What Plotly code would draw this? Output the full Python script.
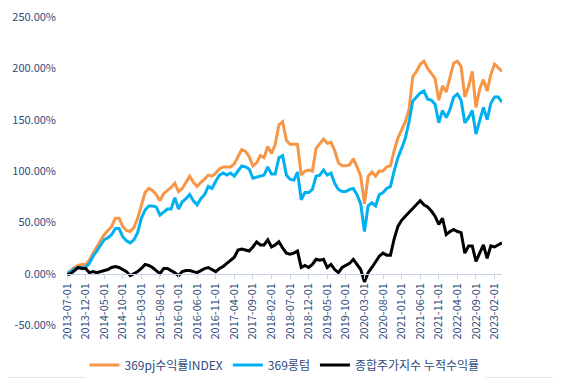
import pandas as pd
import plotly.graph_objects as go

dates = [d.strftime("%Y-%m-%d") for d in pd.date_range("2013-07-01", periods=118, freq="MS")]

pj_index = [0, 3, 6, 8, 9, 9, 13, 20, 26, 32, 38, 42, 46, 54, 54, 46, 42, 41, 45, 54,
            66, 79, 83, 81, 77, 71, 78, 81, 84, 88, 80, 83, 89, 95, 89, 85, 89, 92, 96, 95,
            98, 102, 104, 104, 104, 107, 114, 121, 119, 114, 105, 108, 115, 113, 124, 117, 126, 145, 148, 130,
            126, 126, 126, 96, 100, 101, 100, 122, 126, 131, 127, 128, 120, 108, 105, 105, 106, 112, 104, 95,
            68, 95, 99, 95, 100, 100, 104, 105, 120, 132, 140, 148, 160, 192, 197, 204, 207, 200, 195, 190,
            169, 183, 177, 190, 205, 207, 202, 172, 182, 197, 162, 180, 189, 178, 194, 204, 200, 197]

longterm = [0, 2, 5, 6, 6, 6, 10, 17, 22, 28, 33, 35, 38, 44, 44, 36, 32, 30, 33, 40,
            54, 62, 66, 66, 65, 57, 60, 63, 63, 74, 63, 70, 73, 77, 71, 67, 73, 77, 85, 83,
            90, 96, 98, 96, 98, 95, 100, 105, 104, 102, 93, 94, 95, 96, 104, 97, 97, 113, 115, 96,
            92, 91, 99, 72, 79, 79, 82, 95, 96, 101, 96, 98, 88, 82, 80, 80, 82, 83, 77, 68,
            41, 66, 69, 66, 77, 79, 83, 85, 100, 113, 122, 132, 148, 168, 172, 176, 178, 170, 169, 165,
            147, 159, 152, 160, 172, 175, 169, 147, 152, 159, 136, 150, 162, 150, 166, 172, 172, 167]

kospi_cum = [-1, 0, 3, 6, 5, 5, 1, 2, 1, 2, 3, 4, 6, 7, 6, 4, 2, -2, 0, 2,
             5, 9, 8, 6, 3, 0, 5, 5, 3, 1, -2, 2, 3, 3, 2, 1, 3, 5, 6, 4,
             2, 5, 7, 10, 13, 16, 23, 24, 23, 22, 26, 31, 28, 28, 33, 26, 28, 31, 25, 20,
             19, 20, 22, 6, 8, 6, 9, 14, 13, 14, 6, 9, 4, 1, 6, 8, 10, 14, 9, 4,
             -8, 1, 6, 12, 17, 20, 18, 18, 34, 46, 52, 56, 60, 64, 68, 71, 67, 65, 61, 56,
             48, 54, 38, 41, 43, 41, 40, 20, 27, 27, 12, 20, 28, 15, 27, 26, 28, 30]

y_ticks = [-50, 0, 50, 100, 150, 200, 250]

names = ["369pj수익률INDEX", "369롱텀", "종합주가지수 누적수익률"]
colors = ["#F79646", "#00B0F0", "#000000"]
series = [pj_index, longterm, kospi_cum]

FONT = "Noto Sans CJK KR"
TXT = "#2F4B7C"

fig = go.Figure()
for nm, col, vals in zip(names, colors, series):
    fig.add_trace(go.Scatter(x=dates, y=vals, name=nm, mode="lines",
                             line=dict(color=col, width=3)))

# page body has an 8px margin, so the figure div starts at (8, 8) in the window
fig.update_layout(
    width=553, height=375,
    margin=dict(l=59, r=59, t=9, b=58, autoexpand=False),
    paper_bgcolor="white", plot_bgcolor="white",
    font=dict(family=FONT, color=TXT, size=11),
    showlegend=True,
    legend=dict(orientation="h", x=0.5, xanchor="center", y=-0.13, yanchor="middle",
                font=dict(family=FONT, size=12, color=TXT), itemwidth=30),
    xaxis=dict(type="category", range=[0, 117], tickmode="array", tickvals=dates[::5],
               ticktext=dates[::5], tickangle=-90, showgrid=False, showline=True,
               linecolor="#C5D3EA", linewidth=1, ticks="outside", tickcolor="#C5D3EA",
               ticklen=4, anchor="free", position=1/6, automargin=False,
               tickfont=dict(size=11, color=TXT)),
    yaxis=dict(range=[-50.01, 250.01], tickmode="array", tickvals=y_ticks,
               ticktext=[f"{v:.2f}%" for v in y_ticks], automargin=False,
               ticklabeloverflow="allow", ticklabelstandoff=10,
               showgrid=False, zeroline=False, showline=False,
               tickfont=dict(size=11, color=TXT)),
    shapes=[dict(type="line", xref="paper", yref="paper", x0=1.131, x1=1.131, y0=-0.17, y1=1.0,
                 line=dict(color="#E0E0E0", width=1)),
            dict(type="line", xref="paper", yref="paper", x0=-0.14, x1=1.131, y0=-0.17, y1=-0.17,
                 line=dict(color="#EADDEB", width=1))],
)

fig.write_html("out.html")
